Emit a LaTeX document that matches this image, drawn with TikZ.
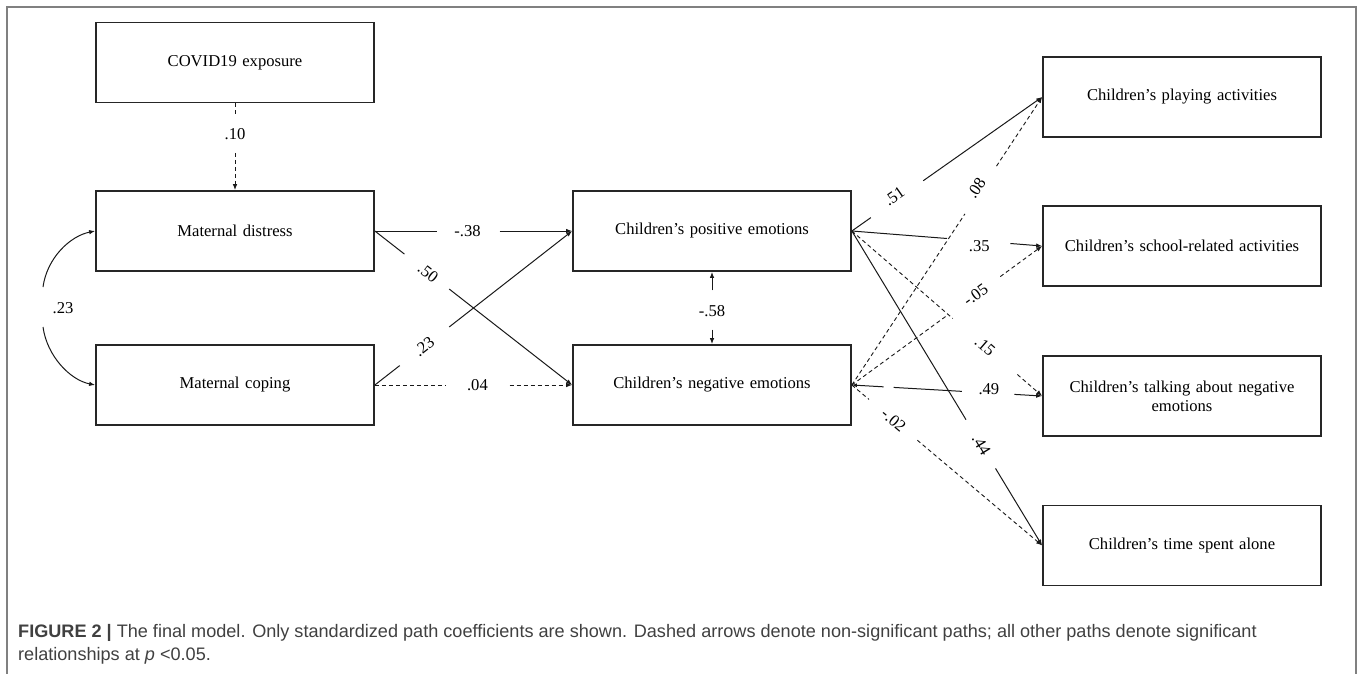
\documentclass[tikz,border=0pt]{standalone}
\usepackage{fontspec}
\setmainfont{Liberation Serif}
\setsansfont{Liberation Sans}
\usetikzlibrary{arrows.meta,calc}

\newcommand\gappath[8]{%
  \draw[#1] (#2) -- ($(#2)!#4!(#3)$);
  \draw[#1,arr] ($(#2)!#5!(#3)$) -- (#3);
  \path (#2) -- (#3) node[lab,pos=#6,#7] {#8};
}

\begin{document}
\begin{tikzpicture}[x=1pt,y=-1pt,
  nbox/.style={draw=black!85, line width=1.7pt, minimum width=278pt, minimum height=80pt,
    inner sep=0pt, text width=270pt, align=center, font=\fontsize{16.6}{19}\selectfont},
  conn/.style={line width=1pt, draw=black!90},
  dsh/.style={line width=0.9pt, draw=black!90, dash pattern=on 4pt off 3pt},
  arr/.style={-{Latex[length=6pt,width=4.5pt]}},
  lab/.style={font=\fontsize{16.6}{19}\selectfont, inner sep=1pt},
  captext/.style={font=\sffamily\fontsize{18.1}{22}\selectfont, text=black!75, inner sep=0pt, anchor=base west}
]
\useasboundingbox (0,0) rectangle (1363,674);

% frame
\draw[black!50, line width=1.5pt] (7,674) -- (7,7) -- (1356,7) -- (1356,674);

% boxes
\node[nbox] (covid) at (235,62.5) {COVID19 exposure};
\node[nbox] (md) at (235,231) {Maternal distress};
\node[nbox] (mc) at (235,385) {Maternal coping};
\node[nbox] (pe) at (712,231) {Children’s positive emotions};
\node[nbox] (ne) at (712,385) {Children’s negative emotions};
\node[nbox] (pa) at (1182,97) {Children’s playing activities};
\node[nbox] (sa) at (1182,246) {Children’s school-related activities};
\node[nbox] (ta) at (1182,396) {Children’s talking about negative\\emotions};
\node[nbox] (al) at (1182,545.5) {Children’s time spent alone};

% left part
\gappath{dsh}{covid.south}{md.north}{0.12}{0.57}{0.35}{}{.10}
\gappath{conn}{md.east}{pe.west}{0.317}{0.633}{0.47}{}{-.38}
\gappath{conn}{md.east}{ne.west}{0.15}{0.377}{0.27}{sloped}{.50}
\gappath{conn}{mc.east}{pe.west}{0.126}{0.377}{0.25}{sloped}{.23}
\gappath{dsh}{mc.east}{ne.west}{0.357}{0.683}{0.52}{}{.04}

% covariance curve
\coordinate (cu) at (43,287);
\coordinate (cl) at (43,327);
\draw[conn,arr] (cu) .. controls (47,258) and (70,236) .. (md.west);
\draw[conn,arr] (cl) .. controls (47,356) and (70,380) .. (mc.west);
\node[lab] (l23) at (63,308) {.23};

% pos <-> neg
\draw[conn,arr] ($(pe.south)!0.257!(ne.north)$) -- (pe.south);
\draw[conn,arr] ($(pe.south)!0.8!(ne.north)$) -- (ne.north);
\path (pe.south) -- (ne.north) node[lab,pos=0.54] {-.58};

% right part
\gappath{conn}{pe.east}{pa.west}{0.1}{0.375}{0.235}{sloped,above=-3pt}{.51}
\gappath{dsh}{ne.east}{pa.west}{0.594}{0.76}{0.675}{sloped,above=-2pt}{.08}
\gappath{conn}{pe.east}{sa.west}{0.5}{0.833}{0.67}{yshift=-5pt}{.35}
\gappath{dsh}{ne.east}{sa.west}{0.505}{0.78}{0.65}{sloped}{-.05}
\gappath{dsh}{pe.east}{ta.west}{0.53}{0.87}{0.70}{sloped}{.15}
\draw[conn,{Latex[length=5pt,width=4pt]}-] (ne.east) -- ($(ne.east)!0.167!(ta.west)$);
\draw[conn] ($(ne.east)!0.219!(ta.west)$) -- ($(ne.east)!0.578!(ta.west)$);
\draw[conn,arr] ($(ne.east)!0.854!(ta.west)$) -- (ta.west);
\path (ne.east) -- (ta.west) node[lab,pos=0.72,yshift=4pt] {.49};
\gappath{conn}{pe.east}{al.west}{0.6}{0.755}{0.68}{sloped}{.44}
\gappath{dsh}{ne.east}{al.west}{0.09}{0.344}{0.22}{sloped}{-.02}

% caption
\node[captext] (cap1) at (18,637) {\textbf{FIGURE 2 |} The final model. Only standardized path coefficients are shown. Dashed arrows denote non-significant paths; all other paths denote significant};
\node[captext] (cap2) at (18,660) {relationships at \textit{p} <0.05.};
\end{tikzpicture}
\end{document}
